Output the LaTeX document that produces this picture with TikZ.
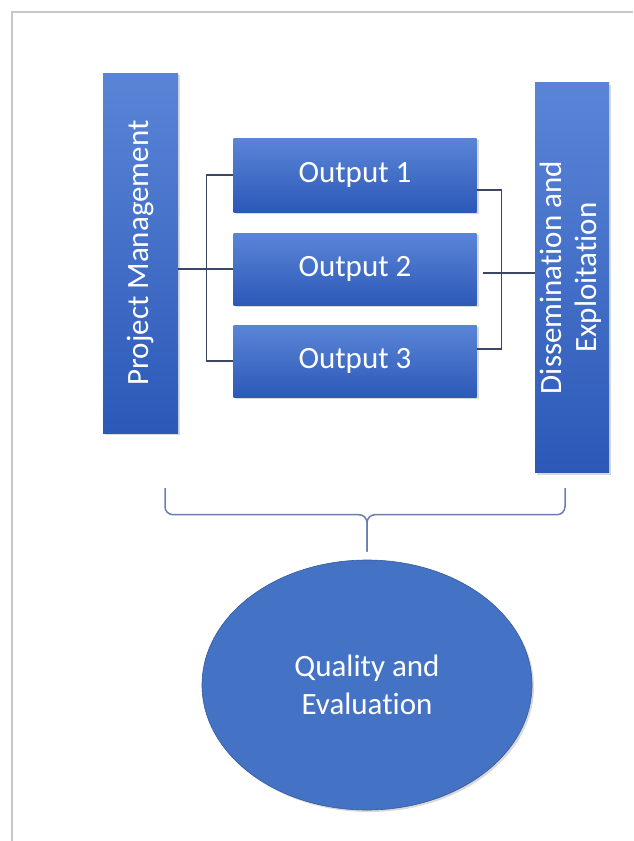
\documentclass[tikz,border=0pt]{standalone}
\usepackage{fontspec}
\setmainfont[Ligatures=NoCommon]{Carlito}
\usepackage{xcolor}
\usepackage{graphicx}
\usepackage{tikz}
\usetikzlibrary{positioning,calc,shapes.geometric,shadows}

\definecolor{boxtop}{RGB}{90,133,215}
\definecolor{boxbottom}{RGB}{44,89,184}
\definecolor{ovalblue}{RGB}{68,114,196}
\definecolor{linkgray}{RGB}{58,70,98}
\definecolor{bracegray}{RGB}{104,126,178}
\definecolor{framegray}{RGB}{200,200,200}

\begin{document}
\begin{tikzpicture}[x=1pt, y=-1pt,
	bluebox/.style={rectangle, top color=boxtop, bottom color=boxbottom, text=white, inner sep=0,
		font=\fontsize{31}{35}\selectfont,
		drop shadow={opacity=0.3, shadow xshift=2pt, shadow yshift=-2pt}},
	link/.style={draw=linkgray, line width=1.1pt},
	bracestyle/.style={draw=bracegray, line width=1.5pt, rounded corners=8pt}]
	\useasboundingbox (0,0) rectangle (633,841);
	\draw[framegray, line width=2pt] (633,12) -- (12,12) -- (12,841);

	\node[bluebox, minimum width=75, minimum height=360] (pm) at (140.5,253) {\rotatebox{90}{Project Management}};
	\node[bluebox, minimum width=243, minimum height=74] (out1) at (355,175) {Output 1};
	\node[bluebox, minimum width=243, minimum height=72] (out2) at (355,269) {Output 2};
	\node[bluebox, minimum width=243, minimum height=72] (out3) at (355,361) {Output 3};
	\node[bluebox, minimum width=74, minimum height=390] (dis) at (572,277.5) {%
		\rotatebox{90}{\begin{tabular}{@{}c@{}}Dissemination and\\Exploitation\end{tabular}}};

	\node[ellipse, fill=ovalblue, draw=ovalblue!80!black, line width=0.6pt, minimum width=330, minimum height=250,
		text=white, align=center, font=\fontsize{31}{38}\selectfont,
		drop shadow={opacity=0.3, shadow xshift=2pt, shadow yshift=-2pt}] (qe) at (367,685) {Quality and\\Evaluation};

	% links between the boxes
	\draw[link] (pm.east |- out2.west) -- (out2.west);
	\draw[link] (out1.west) -- ++(-27,0) |- (out3.west);
	\draw[link] ([yshift=-15pt]out1.east) -- ++(25,0) |- ([yshift=12pt]out3.east);
	\draw[link] ([xshift=6pt,yshift=-4pt]out2.east) -- (dis.west |- 0,273);

	% brace above the oval
	\coordinate (bl) at (165,488);
	\coordinate (br) at (565,488);
	\coordinate (bt) at ([yshift=8pt]qe.north);
	\draw[bracestyle] (bl) |- ($(bt)+(0,-37)$) -- (bt);
	\draw[bracestyle] (br) |- ($(bt)+(0,-37)$) -- (bt);
\end{tikzpicture}
\end{document}
